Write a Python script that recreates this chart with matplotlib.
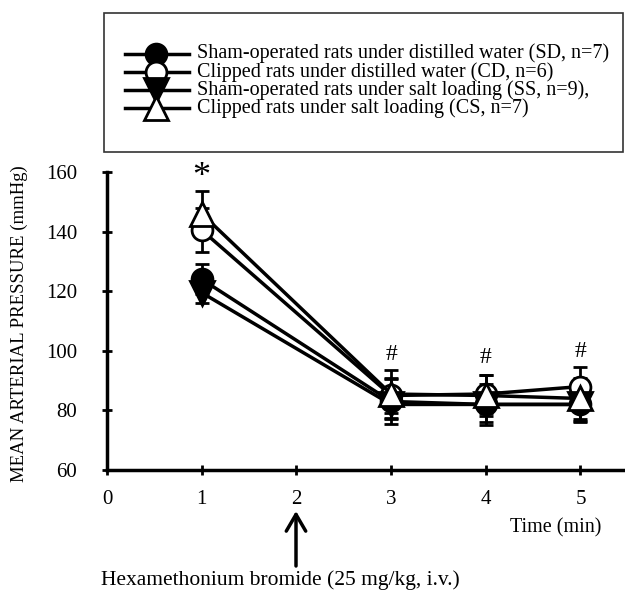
import numpy as np
import matplotlib
matplotlib.use("Agg")
import matplotlib.pyplot as plt
from matplotlib.lines import Line2D
from matplotlib.patches import Rectangle

plt.rcParams["font.family"] = ["Liberation Serif", "DejaVu Serif"]

# --- data ---
time = [1, 3, 4, 5]
sd = [124.0, 83.0, 82.0, 82.0]
sd_err = [5.0, 7.5, 7.0, 6.0]
cd = [140.5, 85.0, 85.5, 88.0]
cd_err = [7.5, 6.0, 6.5, 6.5]
ss = [119.5, 82.0, 82.0, 82.0]
ss_err = [3.5, 5.0, 6.0, 5.5]
cs = [146.0, 85.5, 85.0, 84.0]
cs_err = [7.5, 8.0, 7.0, 7.0]

labels = ["Sham-operated rats under distilled water (SD, n=7)",
          "Clipped rats under distilled water (CD, n=6)",
          "Sham-operated rats under salt loading (SS, n=9),",
          "Clipped rats under salt loading (CS, n=7)"]

hash_x = [3, 4, 5]
hash_y = [98.6, 97.6, 99.7]

W, H = 625, 593
fig = plt.figure(figsize=(W / 100, H / 100), dpi=100)
ax = fig.add_axes([107 / W, 1 - 470 / H, (W - 107) / W, (470 - 172) / H])

styles = [
    (sd, sd_err, dict(marker="o", ms=15, mfc="black")),
    (cd, cd_err, dict(marker="o", ms=15, mfc="white")),
    (ss, ss_err, dict(marker="v", ms=17, mfc="black")),
    (cs, cs_err, dict(marker="^", ms=17, mfc="white")),
]
for vals, err, st in styles:
    ax.errorbar(time, vals, yerr=err, color="black", lw=2.5, elinewidth=2,
                capsize=5, capthick=2.5, mec="black", mew=2, **st)

ax.text(1, 158, "*", ha="center", va="center", fontsize=26)
for x, y in zip(hash_x, hash_y):
    ax.text(x, y, "#", ha="center", va="center", fontsize=17)

ax.set_xlim(0, 5.47)
ax.set_ylim(60, 160)
ax.set_xticks([0, 1, 2, 3, 4, 5])
ax.set_yticks([60, 80, 100, 120, 140, 160])
for s in ["top", "right"]:
    ax.spines[s].set_visible(False)
for s in ["left", "bottom"]:
    ax.spines[s].set_linewidth(2.5)
ax.tick_params(direction="inout", length=7, width=2, labelsize=15)
ax.tick_params(axis="x", pad=11)
ax.tick_params(axis="y", pad=18)
ax.set_ylabel("MEAN ARTERIAL PRESSURE (mmHg)", fontsize=13.5)
ax.yaxis.set_label_coords(-0.152, 0.49)

fig.text(556 / W, 1 - 528 / H, "Time (min)", ha="center", va="center", fontsize=14.5)
fig.text(280 / W, 1 - 580 / H, "Hexamethonium bromide (25 mg/kg, i.v.)",
         ha="center", va="center", fontsize=15.5)
ax.annotate("", xy=(296 / W, 1 - 511 / H), xycoords="figure fraction",
            xytext=(296 / W, 1 - 566 / H), textcoords="figure fraction",
            arrowprops=dict(arrowstyle="->,head_length=0.6,head_width=0.35",
                            mutation_scale=20, lw=2.5, color="black",
                            shrinkA=0, shrinkB=0))

# legend box, drawn by hand so rows sit as tight as in the original
fig.patches.append(Rectangle((104 / W, 1 - 152 / H), (623 - 104) / W, (152 - 13) / H,
                             transform=fig.transFigure, fill=False,
                             edgecolor="#333333", lw=1.2))
for i, ((_, _, st), lab) in enumerate(zip(styles, labels)):
    yy = 1 - (53.5 + 18.2 * i) / H
    fig.lines.append(Line2D([125 / W, 189 / W], [yy, yy], transform=fig.transFigure,
                            color="black", lw=2.5))
    fig.lines.append(Line2D([156 / W], [yy], transform=fig.transFigure,
                            color="black", mec="black", mew=2, ls="none", **st))
    fig.text(197 / W, yy, lab, ha="left", va="center", fontsize=14.5)

fig.savefig("out.png", dpi=100)
